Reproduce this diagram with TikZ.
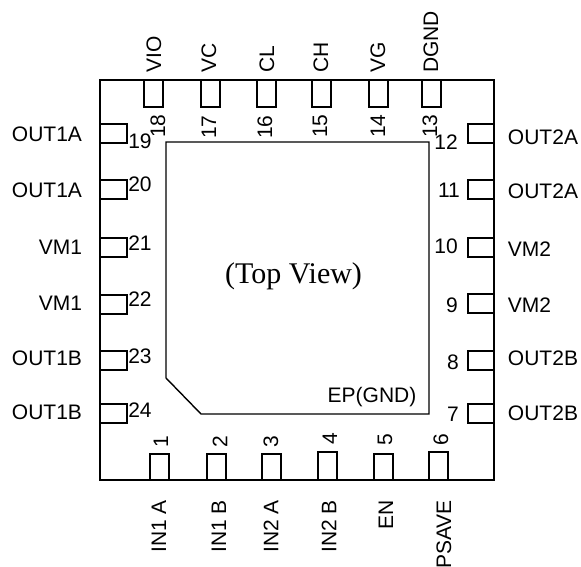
\documentclass[tikz,border=0pt]{standalone}
\usepackage{fontspec}
\setmainfont{Liberation Sans}
\newfontfamily\serifface{Liberation Serif}
\tikzset{
  x=1pt,y=-1pt,
  outline/.style={draw=black,line width=1.4pt},
  pinbox/.style={draw=black,line width=1.2pt},
  lbl/.style={inner sep=0pt,font=\fontsize{21}{22}\selectfont},
  uplbl/.style={lbl,rotate=90,anchor=west},
  downlbl/.style={lbl,rotate=90,anchor=east},
  upnum/.style={lbl,rotate=90}
}
\begin{document}
\begin{tikzpicture}
\useasboundingbox (0,0) rectangle (581,567);
\clip (0,0) rectangle (581,567);
\draw[outline] (100,80) rectangle (494,480);
% exposed pad
\draw[outline] (166,142) -- (429,142) -- (429,414) -- (201,414) -- (166,378) -- cycle;
% left pins
\foreach \y in {124,180,238,295,351,404} \draw[pinbox] (100,\y) rectangle (127,\y+19);
% right pins
\foreach \y in {124,180,238,294,351,404} \draw[pinbox] (468,\y) rectangle (494,\y+19);
% top pins
\foreach \x in {144,201,257,312,369,422} \draw[pinbox] (\x,80) rectangle (\x+19,107);
% bottom pins
\foreach \x/\t in {150/454,207/454,262/454,318/452,374/454,429/452} \draw[pinbox] (\x,\t) rectangle (\x+19,480);
% left labels
\node[lbl] (l19) at (47,134) {OUT1A};
\node[lbl] (l20) at (47,190) {OUT1A};
\node[lbl] (l21) at (60.5,247) {VM1};
\node[lbl] (l22) at (60.5,303) {VM1};
\node[lbl] (l23) at (47,358) {OUT1B};
\node[lbl] (l24) at (47,412) {OUT1B};
% right labels
\node[lbl] (l12) at (543,137) {OUT2A};
\node[lbl] (l11) at (543,191) {OUT2A};
\node[lbl] (l10) at (529.5,249) {VM2};
\node[lbl] (l9) at (529.5,305) {VM2};
\node[lbl] (l8) at (543,358) {OUT2B};
\node[lbl] (l7) at (543,413) {OUT2B};
% left numbers
\node[lbl] (n19) at (140,141) {19};
\node[lbl] (n20) at (140,184) {20};
\node[lbl] (n21) at (140,243) {21};
\node[lbl] (n22) at (140,299) {22};
\node[lbl] (n23) at (140,356) {23};
\node[lbl] (n24) at (140,410) {24};
% right numbers
\node[lbl] (n12) at (446,142) {12};
\node[lbl] (n11) at (449,190) {11};
\node[lbl] (n10) at (446,246) {10};
\node[lbl] (n9) at (452,305) {9};
\node[lbl] (n8) at (453,362) {8};
\node[lbl] (n7) at (453,414) {7};
% top numbers
\node[upnum] (n18) at (158,126) {18};
\node[upnum] (n17) at (209,127) {17};
\node[upnum] (n16) at (265,127) {16};
\node[upnum] (n15) at (320,126) {15};
\node[upnum] (n14) at (378,126) {14};
\node[upnum] (n13) at (430,126) {13};
% bottom numbers
\node[upnum] (n1) at (161,442) {1};
\node[upnum] (n2) at (220,442) {2};
\node[upnum] (n3) at (271,442) {3};
\node[upnum] (n4) at (330,439) {4};
\node[upnum] (n5) at (385,440) {5};
\node[upnum] (n6) at (441,440) {6};
% top labels
\node[uplbl] (l18) at (154,73) {VIO};
\node[uplbl] (l17) at (209,73) {VC};
\node[uplbl] (l16) at (267,73) {CL};
\node[uplbl] (l15) at (321,73) {CH};
\node[uplbl] (l14) at (378,73) {VG};
\node[uplbl] (l13) at (431,73) {DGND};
% bottom labels
\node[downlbl] (l1) at (159,500) {IN1 A};
\node[downlbl] (l2) at (219,500) {IN1 B};
\node[downlbl] (l3) at (271,500) {IN2 A};
\node[downlbl] (l4) at (329,500) {IN2 B};
\node[downlbl] (l5) at (386,500) {EN};
\node[downlbl] (l6) at (444,500) {PSAVE};
% centre
\node[inner sep=0pt,font=\serifface\fontsize{30}{32}\selectfont] (tv) at (293.5,276) {(Top View)};
\node[lbl] (ep) at (372,397) {EP(GND)};
\end{tikzpicture}
\end{document}
